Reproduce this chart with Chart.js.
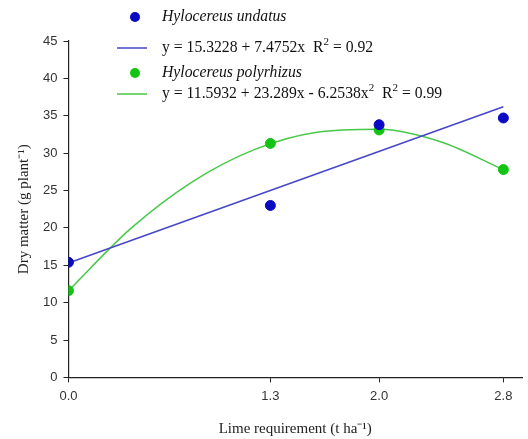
<!DOCTYPE html>
<html>
<head>
<meta charset="utf-8">
<script src="https://cdn.jsdelivr.net/npm/chart.js@4"></script>
<style>
  html, body { margin: 0; padding: 0; background: #fff; }
  #wrap { width: 528px; height: 439px; }
</style>
</head>
<body>
<div id="wrap"><canvas id="grafico"></canvas></div>
<script>
// data
const limeTicks = [0.0, 1.3, 2.0, 2.8];
const undatusX = [0.0, 1.3, 2.0, 2.8];
const undatusY = [15.4, 23.0, 33.8, 34.7];
const polyrhizusX = [0.0, 1.3, 2.0, 2.8];
const polyrhizusY = [11.6, 31.3, 33.1, 27.8];
// fitted lines as drawn in the figure
const undatusFitX = [0.0, 2.8];
const undatusFitY = [15.3, 36.2];
const polyFitX = [0.0, 0.4, 0.8, 1.2, 1.6, 2.0, 2.4, 2.8];
const polyFitY = [11.6, 19.9, 26.2, 30.5, 32.8, 33.2, 31.5, 27.8];

const blueDot = '#0a0ac4';
const blueLine = '#4646c8';
const greenDot = '#14c414';
const greenLine = '#48c848';

function pts(xs, ys) {
    return xs.map(function (x, i) { return { x: x, y: ys[i] }; });
}

// legend with superscripts, drawn inside the plot
const legendPlugin = {
    id: 'legendaManual',
    afterDraw: function (chart) {
        const c = chart.ctx;
        c.save();
        c.textBaseline = 'middle';
        c.fillStyle = '#111';

        function dot(x, y, col) {
            c.beginPath();
            c.fillStyle = col;
            c.arc(x, y, 5, 0, Math.PI * 2);
            c.fill();
        }
        function seg(y, col) {
            c.beginPath();
            c.strokeStyle = col;
            c.lineWidth = 1.5;
            c.moveTo(117, y);
            c.lineTo(147, y);
            c.stroke();
        }
        // parts: [text, superscript?]
        function txt(x, y, parts, italic) {
            let cx = x;
            parts.forEach(function (p) {
                if (p[1]) {
                    c.font = '11px "Liberation Serif"';
                    c.fillStyle = '#111';
                    c.fillText(p[0], cx, y - 6);
                } else {
                    c.font = (italic ? 'italic ' : '') + '15.7px "Liberation Serif"';
                    c.fillStyle = '#111';
                    c.fillText(p[0], cx, y);
                }
                cx += c.measureText(p[0]).width;
            });
        }

        dot(135, 17, blueDot);
        txt(162, 17, [['Hylocereus undatus']], true);
        seg(48, blueLine);
        txt(162, 48, [['y = 15.3228 + 7.4752x  R'], ['2', true], [' = 0.92']]);
        dot(135, 73, greenDot);
        txt(162, 73, [['Hylocereus polyrhizus']], true);
        seg(94, greenLine);
        txt(162, 94, [['y = 11.5932 + 23.289x - 6.2538x'], ['2', true], ['  R'], ['2', true], [' = 0.99']]);
        c.restore();
    }
};

window.onload = function () {
    const ctx = document.getElementById('grafico').getContext('2d');
    const grafico = new Chart(ctx, {
        type: 'scatter',
        data: {
            datasets: [
                {
                    label: 'Hylocereus undatus',
                    data: pts(undatusX, undatusY),
                    backgroundColor: blueDot,
                    borderColor: blueDot,
                    pointRadius: 5,
                    showLine: false
                },
                {
                    label: 'Hylocereus polyrhizus',
                    data: pts(polyrhizusX, polyrhizusY),
                    backgroundColor: greenDot,
                    borderColor: greenDot,
                    pointRadius: 5,
                    showLine: false
                },
                {
                    label: 'fit undatus',
                    data: pts(undatusFitX, undatusFitY),
                    borderColor: blueLine,
                    borderWidth: 1.5,
                    pointRadius: 0,
                    showLine: true
                },
                {
                    label: 'fit polyrhizus',
                    data: pts(polyFitX, polyFitY),
                    borderColor: greenLine,
                    borderWidth: 1.5,
                    pointRadius: 0,
                    showLine: true,
                    tension: 0.4,
                    cubicInterpolationMode: 'monotone'
                }
            ]
        },
        options: {
            responsive: true,
            maintainAspectRatio: false,
            animation: false,
            layout: { padding: { top: 41, right: 2, bottom: 1, left: 15 } },
            plugins: {
                legend: { display: false },
                tooltip: { enabled: false }
            },
            scales: {
                x: {
                    type: 'linear',
                    min: 0,
                    max: 2.92,
                    afterBuildTicks: function (axis) {
                        axis.ticks = limeTicks.map(function (v) { return { value: v }; });
                    },
                    grid: { display: true, drawOnChartArea: false, drawTicks: true, tickLength: 5, tickColor: '#222' },
                    border: { color: '#222', width: 1.2 },
                    ticks: {
                        color: '#333',
                        font: { family: '"Liberation Sans"', size: 13 },
                        padding: 6,
                        maxRotation: 0,
                        callback: function (v) { return v.toFixed(1); }
                    },
                    title: {
                        display: true,
                        text: 'Lime requirement (t ha⁻¹)',
                        color: '#222',
                        font: { family: '"Liberation Serif"', size: 15 },
                        padding: { top: 10, bottom: 0 }
                    }
                },
                y: {
                    min: 0,
                    max: 45,
                    ticks: {
                        stepSize: 5,
                        color: '#333',
                        font: { family: '"Liberation Sans"', size: 13 },
                        padding: 6
                    },
                    grid: { display: true, drawOnChartArea: false, drawTicks: true, tickLength: 5, tickColor: '#222' },
                    border: { color: '#222', width: 1.2 },
                    title: {
                        display: true,
                        text: 'Dry matter (g plant⁻¹)',
                        color: '#222',
                        font: { family: '"Liberation Serif"', size: 15 },
                        padding: { top: 0, bottom: 4 }
                    }
                }
            }
        },
        plugins: [legendPlugin]
    });
};
</script>
</body>
</html>
